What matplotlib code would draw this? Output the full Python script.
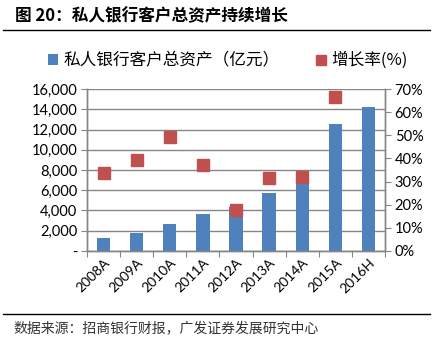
import matplotlib.pyplot as plt
import numpy as np
from matplotlib.ticker import FuncFormatter, MultipleLocator

plt.rcParams['font.family'] = ['Noto Sans CJK SC', 'DejaVu Sans']

years = ['2008A', '2009A', '2010A', '2011A', '2012A', '2013A', '2014A', '2015A', '2016H']
assets = [1280, 1780, 2680, 3680, 4340, 5720, 7500, 12540, 14200]  # 亿元
growth = [33.7, 39.3, 49.3, 37.2, 17.7, 31.5, 32.0, 66.5, np.nan]  # %

blue = '#4F81BD'
red = '#C0504D'
grey = '#868686'
num_font = ['Lato', 'DejaVu Sans']

fig = plt.figure(figsize=(4.34, 3.4), dpi=100)
ax = fig.add_axes([0.2005, 0.262, 0.6865, 0.476])
ax2 = ax.twinx()

x = np.arange(len(years))
ax.bar(x, assets, width=0.4, color=blue, zorder=3, label='私人银行客户总资产（亿元）')
ax2.plot(x, growth, 's', color=red, markersize=8.5, zorder=4, label='增长率(%)')

ax.set_xlim(-0.5, len(years) - 0.5)
ax.set_ylim(0, 16000)
ax.yaxis.set_major_locator(MultipleLocator(2000))
ax.yaxis.set_major_formatter(FuncFormatter(lambda v, p: '-' if v == 0 else f'{v:,.0f}'))
ax2.set_ylim(0, 70)
ax2.yaxis.set_major_locator(MultipleLocator(10))
ax2.yaxis.set_major_formatter(FuncFormatter(lambda v, p: f'{v:.0f}%'))

ax.grid(axis='y', color=grey, linewidth=1, zorder=0)
ax.set_axisbelow(True)

for a in (ax, ax2):
    a.spines['top'].set_visible(False)
    for s in ('left', 'right', 'bottom'):
        a.spines[s].set_color(grey)
        a.spines[s].set_linewidth(1)
ax.zorder = 2
ax2.zorder = 3
ax.patch.set_visible(False)

# category ticks sit between the bars
ax.set_xticks(np.arange(-0.5, len(years), 1), minor=False)
ax.set_xticklabels([])
ax.tick_params(axis='x', which='major', length=4, color=grey, direction='out')
ax.set_xticks(x, minor=True)
ax.set_xticklabels(years, minor=True, rotation=45, ha='right', rotation_mode='anchor',
                   fontsize=10, family=num_font)
ax.tick_params(axis='x', which='minor', length=0, pad=4)

ax.tick_params(axis='y', length=4, color=grey, labelsize=10.5, pad=3)
ax2.tick_params(axis='y', length=4, color=grey, labelsize=10.5, pad=3)
for lab in ax.get_yticklabels() + ax2.get_yticklabels():
    lab.set_family(num_font)

# legend on top
h1, l1 = ax.get_legend_handles_labels()
h2, l2 = ax2.get_legend_handles_labels()
fig.legend(h1 + h2, l1 + l2, loc='center', bbox_to_anchor=(0.525, 0.822), ncol=2,
           frameon=False, fontsize=12, handlelength=0.6, handleheight=0.6,
           handletextpad=0.3, columnspacing=2.2, markerscale=0.9)

# header and footer
fig.text(0.035, 0.953, '图 20：私人银行客户总资产持续增长', fontsize=12, fontweight='bold',
         va='center', ha='left')
fig.add_artist(plt.Line2D([0.008, 0.99], [0.913, 0.913], color='black', linewidth=1))
fig.add_artist(plt.Line2D([0.008, 0.99], [0.077, 0.077], color='black', linewidth=1))
fig.text(0.03, 0.036, '数据来源：招商银行财报，广发证券发展研究中心', fontsize=10,
         va='center', ha='left', color='#333333')

fig.savefig('out.png', dpi=100)
